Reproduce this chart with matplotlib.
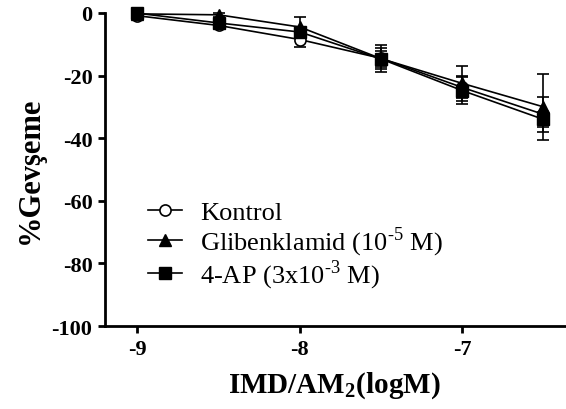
import numpy as np
import matplotlib
matplotlib.use('Agg')
import matplotlib.pyplot as plt
from matplotlib.lines import Line2D

# Concentrations (logM)
doses = [-9, -8.5, -8, -7.5, -7, -6.5]

# Mean relaxation and SEM per group
kontrol = [-0.9, -4.0, -8.5, -14.5, -23.8, -32.4]
kontrol_err = [0.5, 0.8, 2.4, 4.3, 3.5, 5.5]
gliben = [-0.3, -0.6, -4.5, -14.6, -22.5, -30.0]
gliben_err = [0.4, 0.6, 3.2, 3.3, 5.7, 10.5]
ap4 = [-0.1, -3.2, -6.1, -14.7, -24.8, -34.0]
ap4_err = [0.4, 0.8, 1.5, 2.5, 4.3, 2.5]

labels = [r'Kontrol', r'Glibenklamid (10$^{\text{-5}}$ M)',
          r'4-AP (3x10$^{\text{-3}}$ M)']

plt.rcParams['font.family'] = ['Liberation Serif', 'DejaVu Serif']
plt.rcParams['mathtext.fontset'] = 'custom'
plt.rcParams['mathtext.rm'] = 'Liberation Serif'
plt.rcParams['mathtext.bf'] = 'Liberation Serif:bold'

fig = plt.figure(figsize=(5.66, 4.10), dpi=100)
ax = fig.add_axes([0.1855, 0.2024, 0.812, 0.7636])

common = dict(color='black', lw=1.2, capsize=4.5, elinewidth=1.2,
              capthick=1.2, clip_on=False)
ax.errorbar(doses, kontrol, yerr=kontrol_err, marker='o', ms=8,
            mfc='white', mec='black', mew=1.2, **common)
ax.errorbar(doses, gliben, yerr=gliben_err, marker='^', ms=8,
            mfc='black', mec='black', **common)
ax.errorbar(doses, ap4, yerr=ap4_err, marker='s', ms=8,
            mfc='black', mec='black', **common)

ax.set_xlim(-9.2, -6.37)
ax.set_ylim(-100, 0)
ax.set_xticks([-9, -8, -7])
ax.set_yticks([0, -20, -40, -60, -80, -100])
ax.set_xticklabels(['-9', '-8', '-7'], fontweight='bold', fontsize=16)
ax.set_yticklabels(['0', '-20', '-40', '-60', '-80', '-100'],
                   fontweight='bold', fontsize=16)
ax.tick_params(direction='out', length=5, width=2, pad=4)

for side in ['top', 'right']:
    ax.spines[side].set_visible(False)
for side in ['left', 'bottom']:
    ax.spines[side].set_linewidth(2)

ax.set_ylabel('%Gevşeme', fontsize=22, fontweight='bold', labelpad=5)
ax.set_xlabel(r'IMD/AM$_\mathbf{2}$(logM)', fontsize=21, fontweight='bold',
              labelpad=8)

handles = [
    Line2D([], [], color='black', lw=1.2, marker='o', ms=8, mfc='white', mew=1.2),
    Line2D([], [], color='black', lw=1.2, marker='^', ms=8, mfc='black'),
    Line2D([], [], color='black', lw=1.2, marker='s', ms=8, mfc='black'),
]
ax.legend(handles, labels, loc='upper left', bbox_to_anchor=(0.093, 0.40),
          frameon=False, fontsize=19, handlelength=1.3, handletextpad=0.68,
          labelspacing=0.0, borderaxespad=0, borderpad=0)

fig.savefig('out.png', dpi=100)
